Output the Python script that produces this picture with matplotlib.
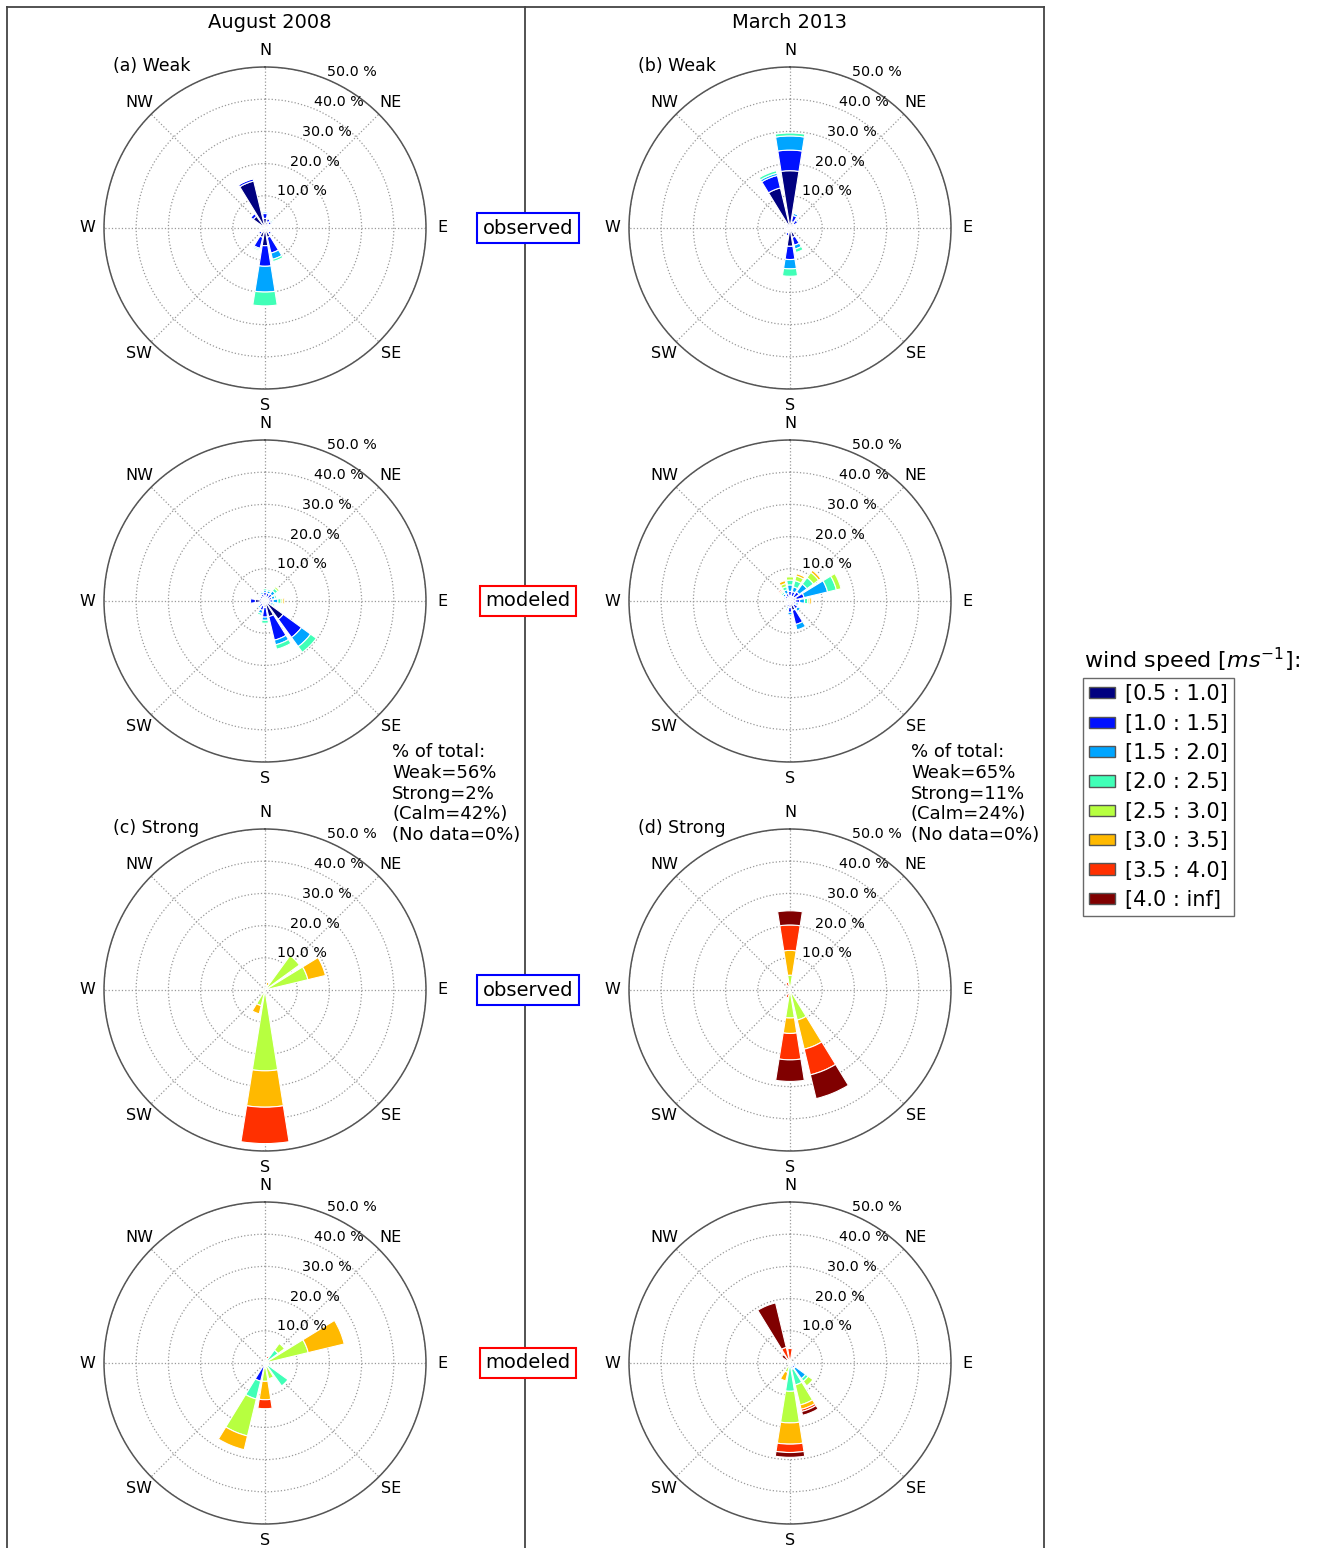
import numpy as np
import matplotlib.pyplot as plt
from matplotlib.patches import Patch
from matplotlib.lines import Line2D

W, H = 1322, 1548

directions = ['N', 'NNE', 'NE', 'ENE', 'E', 'ESE', 'SE', 'SSE',
              'S', 'SSW', 'SW', 'WSW', 'W', 'WNW', 'NW', 'NNW']
compass_labels = ['N', 'NE', 'E', 'SE', 'S', 'SW', 'W', 'NW']
bin_labels = ['[0.5 : 1.0]', '[1.0 : 1.5]', '[1.5 : 2.0]', '[2.0 : 2.5]',
              '[2.5 : 3.0]', '[3.0 : 3.5]', '[3.5 : 4.0]', '[4.0 : inf]']
ring_values = [10, 20, 30, 40, 50]

# frequency (%) per speed bin (rows) and direction (columns, N .. NNW)
aug_weak_obs = [
    [3.0, 2.0, 1.5, 1.0, 1.0, 1.0, 1.5, 3.0, 5.5, 3.0, 1.5, 1.0, 1.0, 1.5, 4.5, 15.0],
    [1.5, 1.0, 1.0, 0.5, 0.5, 0.5, 1.0, 5.0, 6.4, 3.5, 1.0, 0.5, 0.5, 0.5, 1.0, 0.7],
    [0.5, 0.3, 0.5, 0.3, 0.3, 0.3, 0.3, 2.0, 8.0, 0.4, 0.3, 0.2, 0.2, 0.2, 0.2, 0.2],
    [0.2, 0.2, 0.4, 0.2, 0.1, 0.1, 0.2, 0.7, 4.3, 0.4, 0.1, 0.1, 0.1, 0.1, 0.1, 0.1],
    [0] * 16, [0] * 16, [0] * 16, [0] * 16,
]
mar_weak_obs = [
    [17.8, 2.0, 1.5, 1.0, 1.0, 1.0, 1.0, 3.0, 5.7, 1.5, 1.0, 0.8, 0.8, 1.0, 1.5, 12.8],
    [6.4, 2.0, 1.5, 0.5, 0.3, 0.5, 0.5, 2.5, 4.1, 1.0, 0.5, 0.3, 0.3, 0.3, 0.5, 4.0],
    [4.4, 0.7, 0.5, 0.1, 0.0, 0.1, 0.1, 1.2, 2.9, 0.2, 0.0, 0.0, 0.0, 0.0, 0.1, 0.7],
    [0.9, 0.3, 0.1, 0.0, 0.0, 0.0, 0.0, 1.1, 2.3, 0.1, 0.0, 0.0, 0.0, 0.0, 0.0, 0.8],
    [0] * 16, [0] * 16, [0] * 16, [0] * 16,
]
aug_weak_mod = [
    [1.5, 1.2, 1.2, 1.0, 1.0, 1.0, 7.0, 5.0, 2.0, 1.5, 1.2, 1.0, 3.0, 1.0, 1.0, 1.2],
    [1.2, 1.3, 1.5, 1.2, 1.5, 1.0, 7.0, 7.5, 3.0, 1.5, 1.0, 0.8, 1.5, 0.8, 1.0, 1.0],
    [0.7, 0.8, 1.2, 1.0, 1.5, 0.7, 3.5, 1.5, 1.0, 1.0, 0.6, 0.4, 0.0, 0.4, 0.5, 0.6],
    [0.5, 0.5, 1.0, 0.6, 1.0, 0.5, 2.2, 1.4, 0.9, 0.6, 0.0, 0.0, 0.0, 0.0, 0.3, 0.4],
    [0.0, 0.3, 0.6, 0.3, 0.5, 0.0, 0.0, 0.0, 0.0, 0.0, 0.0, 0.0, 0.0, 0.0, 0.0, 0.0],
    [0.0, 0.0, 0.0, 0.0, 0.5, 0.0, 0.0, 0.0, 0.0, 0.0, 0.0, 0.0, 0.0, 0.0, 0.0, 0.0],
    [0] * 16, [0] * 16,
]
mar_weak_mod = [
    [1.5, 1.5, 1.5, 2.0, 1.5, 1.0, 1.5, 3.0, 2.0, 1.0, 0.8, 0.8, 0.8, 0.8, 1.0, 1.2],
    [1.5, 1.5, 2.0, 2.5, 1.5, 1.0, 1.5, 4.5, 1.5, 1.0, 0.6, 0.4, 0.4, 0.8, 1.0, 1.2],
    [2.0, 1.5, 3.0, 7.5, 1.5, 0.7, 1.0, 1.7, 0.8, 0.5, 0.0, 0.0, 0.0, 0.5, 0.8, 1.2],
    [1.5, 2.0, 2.5, 2.8, 1.0, 0.0, 0.0, 0.0, 0.0, 0.5, 0.0, 0.0, 0.0, 0.3, 0.6, 1.0],
    [1.0, 1.5, 2.0, 1.5, 0.5, 0.0, 0.0, 0.0, 0.0, 0.0, 0.0, 0.0, 0.0, 0.3, 0.4, 1.0],
    [0.0, 0.7, 0.8, 0.0, 0.6, 0.0, 0.0, 0.0, 0.0, 0.0, 0.0, 0.0, 0.0, 0.0, 0.4, 0.9],
    [0.0, 0.0, 0.0, 0.0, 0.0, 0.0, 0.0, 0.0, 0.0, 0.0, 0.0, 0.0, 0.0, 0.0, 0.4, 0.0],
    [0] * 16,
]
aug_strong_obs = [
    [0] * 16, [0] * 16, [0] * 16, [0] * 16,
    [0.0, 1.5, 13.2, 13.7, 0.0, 0.0, 0.0, 0.0, 25.1, 5.0, 0.0, 0.0, 1.2, 0.0, 0.0, 0.0],
    [0.0, 1.0, 0.0, 5.6, 0.0, 0.0, 0.0, 0.0, 11.3, 2.6, 0.0, 0.0, 0.0, 0.0, 0.0, 0.0],
    [0.0, 0.0, 0.0, 0.0, 0.0, 0.0, 0.0, 0.0, 11.3, 0.0, 0.0, 0.0, 0.0, 0.0, 0.0, 0.0],
    [0] * 16,
]
mar_strong_obs = [
    [0] * 16, [0] * 16, [0] * 16, [0] * 16,
    [4.6, 0.0, 0.0, 0.0, 0.0, 0.0, 0.0, 9.6, 8.7, 0.0, 0.0, 0.0, 0.0, 0.0, 0.0, 0.0],
    [7.7, 0.0, 0.0, 0.0, 0.0, 0.0, 0.0, 9.3, 4.8, 1.0, 0.0, 0.0, 0.0, 0.0, 0.0, 1.0],
    [7.9, 0.0, 0.0, 0.0, 0.0, 0.0, 0.0, 8.2, 8.2, 1.5, 0.0, 0.0, 0.0, 0.0, 0.0, 1.5],
    [4.4, 0.0, 0.0, 0.0, 0.0, 0.0, 0.0, 7.6, 6.7, 0.0, 0.0, 0.0, 0.0, 0.0, 0.0, 0.0],
]
aug_strong_mod = [
    [0.0, 0.0, 0.0, 0.0, 0.0, 0.0, 0.0, 0.0, 0.0, 0.8, 0.5, 0.0, 0.5, 0.0, 0.0, 0.0],
    [0.0, 0.0, 0.0, 0.0, 0.0, 0.0, 0.0, 0.0, 0.0, 5.0, 0.0, 0.0, 1.2, 0.0, 0.0, 0.0],
    [0.0, 0.0, 0.0, 0.0, 0.5, 1.0, 1.0, 0.0, 0.0, 0.0, 0.0, 0.0, 0.0, 0.0, 0.0, 0.0],
    [0.5, 0.5, 5.0, 1.0, 0.0, 1.0, 7.8, 1.0, 1.5, 5.7, 0.0, 0.0, 0.0, 1.0, 0.0, 0.0],
    [0.0, 0.5, 2.5, 12.8, 0.0, 0.0, 0.0, 4.0, 4.2, 11.8, 0.0, 0.0, 0.0, 0.0, 0.0, 0.0],
    [0.0, 0.5, 0.0, 11.5, 0.0, 0.0, 0.0, 0.0, 5.7, 4.4, 0.0, 0.0, 0.0, 0.0, 0.0, 0.0],
    [0.0, 0.7, 0.0, 0.0, 0.0, 0.0, 0.0, 0.0, 2.8, 0.0, 0.0, 0.0, 0.0, 0.0, 0.0, 0.0],
    [0] * 16,
]
mar_strong_mod = [
    [0] * 16,
    [0.0, 0.0, 0.0, 0.0, 0.0, 1.0, 2.0, 0.0, 0.0, 0.0, 0.0, 0.0, 0.0, 0.0, 0.0, 0.0],
    [0.0, 0.0, 0.0, 0.0, 0.0, 1.0, 4.0, 2.0, 0.0, 0.0, 0.0, 0.0, 0.0, 0.0, 0.0, 0.0],
    [0.0, 0.0, 0.0, 0.0, 0.0, 0.0, 1.0, 5.0, 8.8, 1.0, 0.0, 0.0, 0.0, 0.0, 0.0, 0.0],
    [0.5, 0.0, 0.0, 0.0, 0.0, 0.0, 1.8, 6.4, 9.8, 2.0, 0.0, 0.0, 0.0, 0.0, 0.0, 0.5],
    [0.5, 0.0, 0.0, 0.0, 0.0, 0.0, 0.0, 1.4, 6.6, 2.7, 0.0, 0.0, 0.0, 0.0, 0.0, 0.5],
    [3.5, 0.0, 0.0, 0.0, 0.0, 0.0, 0.0, 0.7, 2.6, 0.0, 0.0, 0.0, 0.0, 0.0, 1.0, 4.0],
    [0.0, 0.0, 0.0, 0.0, 0.0, 0.0, 0.0, 1.2, 1.5, 0.0, 0.0, 0.0, 0.0, 0.0, 2.2, 14.2],
]

summary_aug = "% of total:\nWeak=56%\nStrong=2%\n(Calm=42%)\n(No data=0%)"
summary_mar = "% of total:\nWeak=65%\nStrong=11%\n(Calm=24%)\n(No data=0%)"

colors = plt.cm.jet(np.linspace(0, 1, 8))


def px(x, y):
    return x / W, 1 - y / H


def draw_rose(cx, cy, table, tag=None):
    r = 161
    ax = fig.add_axes([(cx - r) / W, 1 - (cy + r) / H, 2 * r / W, 2 * r / H],
                      projection='polar')
    ax.set_theta_zero_location('N')
    ax.set_theta_direction(-1)
    table = np.asarray(table, dtype=float)
    theta = np.radians(np.arange(16) * 22.5)
    width = np.radians(22.5) * 0.8
    bottom = np.zeros(16)
    for i in range(8):
        m = table[i] > 0
        if m.any():
            ax.bar(theta[m], table[i][m], width=width, bottom=bottom[m],
                   color=colors[i], edgecolor='white', linewidth=0.8, zorder=3)
        bottom += table[i]
    ax.set_ylim(0, 50)
    ax.set_thetagrids(np.arange(0, 360, 45), compass_labels, fontsize=11.5)
    ax.tick_params(axis='x', pad=1.5)
    ax.set_yticks(ring_values)
    ax.set_yticklabels([])
    for v in ring_values:
        ax.text(np.radians(22.5), v, '%.1f %%' % v, fontsize=10.3,
                ha='left', va='bottom', zorder=4)
    ax.grid(color='#999999', linestyle=':', linewidth=0.9)
    ax.spines['polar'].set_color('#555555')
    ax.spines['polar'].set_linewidth(1.1)
    if tag:
        fig.text(*px(cx - 152, cy - 162), tag, fontsize=12.5, ha='left', va='center')
    return ax


fig = plt.figure(figsize=(W / 100, H / 100), dpi=100)

cols = [265, 790]
rows = [228, 601, 990, 1363]
tables = [[aug_weak_obs, mar_weak_obs], [aug_weak_mod, mar_weak_mod],
          [aug_strong_obs, mar_strong_obs], [aug_strong_mod, mar_strong_mod]]
tags = [['(a) Weak', '(b) Weak'], [None, None],
        ['(c) Strong', '(d) Strong'], [None, None]]
for i, cy in enumerate(rows):
    for j, cx in enumerate(cols):
        draw_rose(cx, cy, tables[i][j], tags[i][j])

# panel frame
lc = '#444444'
for xs, ys in [((7, 1044), (7, 7)), ((7, 7), (7, 1548)),
               ((525, 525), (7, 1548)), ((1044, 1044), (7, 1548))]:
    fig.add_artist(Line2D([x / W for x in xs], [1 - y / H for y in ys],
                          color=lc, lw=1.3))

fig.text(*px(270, 23), 'August 2008', fontsize=14, ha='center', va='center')
fig.text(*px(790, 23), 'March 2013', fontsize=14, ha='center', va='center')

for cy, lab, ec in [(228, 'observed', 'blue'), (601, 'modeled', 'red'),
                    (990, 'observed', 'blue'), (1363, 'modeled', 'red')]:
    fig.text(*px(528, cy), lab, fontsize=14, ha='center', va='center',
             bbox=dict(boxstyle='square,pad=0.28', fc='white', ec=ec, lw=1.5))

fig.text(*px(392, 743), summary_aug, fontsize=13, ha='left', va='top',
         linespacing=1.2)
fig.text(*px(911, 743), summary_mar, fontsize=13, ha='left', va='top',
         linespacing=1.2)

fig.text(*px(1084, 660), 'wind speed [$ms^{-1}$]:', fontsize=16,
         ha='left', va='center')
handles = [Patch(facecolor=colors[i], edgecolor='#555555', label=bin_labels[i])
           for i in range(8)]
fig.legend(handles=handles, loc='upper left', bbox_to_anchor=px(1083, 678),
           fontsize=15, frameon=True, fancybox=False, edgecolor='#444444',
           labelspacing=0.45, handlelength=1.25, handleheight=0.45,
           handletextpad=0.45, borderpad=0.3, borderaxespad=0)

fig.savefig('out.png', dpi=100)
